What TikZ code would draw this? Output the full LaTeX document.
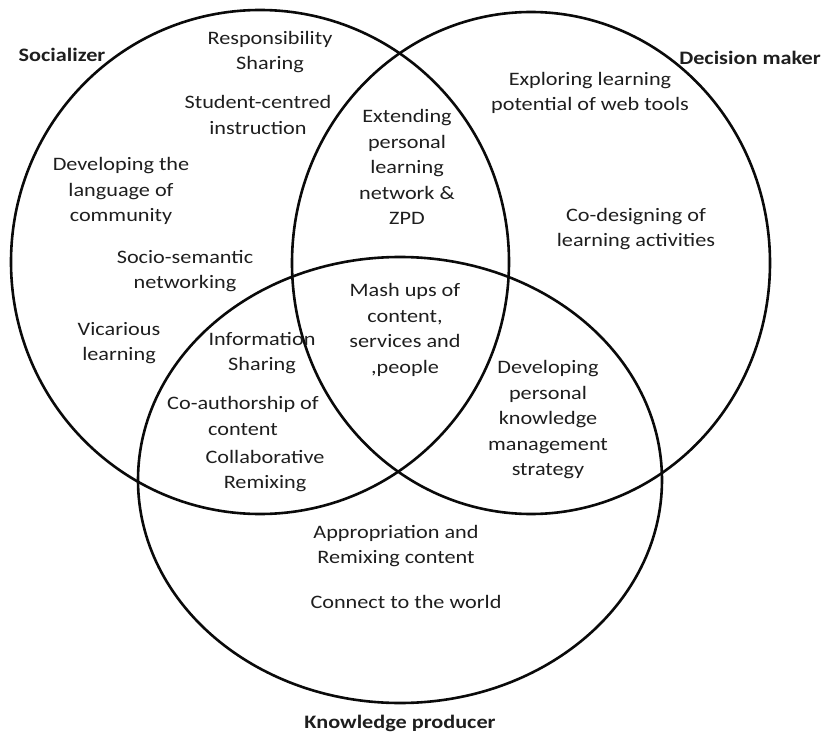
\documentclass[tikz,border=0pt]{standalone}
\usepackage{fontspec}
\setmainfont{Carlito}[FakeStretch=1.17]
\definecolor{inkgray}{HTML}{1E1E1E}
\definecolor{rimblack}{HTML}{0A0A0A}

\begin{document}
\begin{tikzpicture}[
  x=1pt, y=-1pt,
  every node/.style={text=inkgray},
  rolecircle/.style={draw=rimblack, line width=2.6pt},
  practice/.style={align=center, inner sep=0pt, font=\fontsize{19}{25.5}\selectfont},
  rolelabel/.style={inner sep=0pt, font=\fontsize{19}{25.5}\selectfont\bfseries},
]

% Canvas
\useasboundingbox (0,0) rectangle (825,733);

% Role circles
\draw[rolecircle] (260,262) ellipse [x radius=249, y radius=252];
\draw[rolecircle] (531,263) ellipse [x radius=239, y radius=251];
\draw[rolecircle] (400,480) ellipse [x radius=262, y radius=223];

% Role labels
\node[rolelabel] (socializer) at (62,55) {Socializer};
\node[rolelabel] (decider) at (750,58) {Decision maker};
\node[rolelabel] (producer) at (400,723) {Knowledge producer};

% Socializer only
\node[practice] (resp) at (270,52) {Responsibility\\Sharing};
\node[practice] (student) at (258,115) {Student-centred\\instruction};
\node[practice] (devlang) at (121,191) {Developing the\\language of\\community};
\node[practice] (socsem) at (185,271) {Socio-semantic\\networking};
\node[practice] (vicar) at (119,343) {Vicarious\\learning};

% Decision maker only
\node[practice] (explore) at (590,93) {Exploring learning\\potential of web tools};
\node[practice] (codesign) at (636,229) {Co-designing of\\learning activities};

% Socializer & decision maker
\node[practice] (extend) at (407,167) {Extending\\personal\\learning\\network \&\\ZPD};

% All three
\node[practice] (mashup) at (405,330) {Mash ups of\\content,\\services and\\,people};

% Socializer & producer
\node[practice] (info) at (262,353) {Information\\Sharing};
\node[practice] (coauth) at (243,416) {Co-authorship of\\content};
\node[practice] (collab) at (265,471) {Collaborative\\Remixing};

% Decision maker & producer
\node[practice] (pkm) at (548,420) {Developing\\personal\\knowledge\\management\\strategy};

% Producer only
\node[practice] (approp) at (396,546) {Appropriation and\\Remixing content};
\node[practice] (connect) at (406,602) {Connect to the world};

\end{tikzpicture}
\end{document}
